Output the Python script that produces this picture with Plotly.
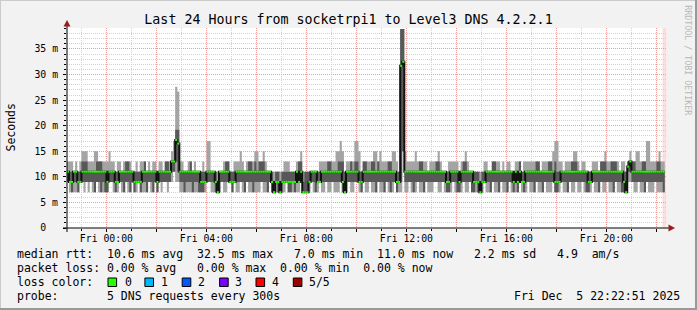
import plotly.graph_objects as go
import pandas as pd

# ---------------- data (5-minute bins, ms) ----------------
bin_start = "2025-12-04 22:25:00"
bin_minutes = 5

ping_min = [
    9, 7, 7, 7, 7, 7, 9,
    9, 7, 9, 7, 9, 7, 7, 9, 7, 7, 7, 7,
    7, 9, 9, 7, 7, 7, 9, 7, 7, 9, 7, 7,
    9, 7, 7, 9, 7, 7, 7, 7, 9, 7, 7, 9,
    7, 9, 7, 9, 9, 7, 9, 9, 11, 9, 9, 7,
    7, 7, 7, 7, 7, 7, 7, 7, 7, 7, 7, 7,
    9, 9, 7, 7, 7, 7, 7, 9, 7, 7, 9, 9,
    7, 9, 7, 7, 9, 7, 7, 9, 7, 7, 7, 7,
    7, 7, 9, 7, 7, 7, 9, 7, 7, 7, 7, 7,
    7, 7, 9, 7, 7, 7, 7, 7, 7, 9, 7, 7,
    7, 7, 9, 7, 7, 7, 9, 7, 7, 9, 7, 7,
    9, 7, 7, 7, 9, 7, 7, 7, 9, 7, 7, 9,
    9, 7, 7, 9, 7, 7, 9, 7, 7, 7, 9, 7,
    7, 7, 9, 7, 7, 7, 9, 7, 7, 7, 15, 7,
    7, 9, 7, 7, 7, 9, 7, 7, 7, 9, 7, 7,
    7, 9, 9, 7, 7, 9, 7, 7, 7, 7, 9, 7,
    7, 7, 7, 9, 7, 7, 9, 7, 7, 7, 7, 7,
    7, 9, 7, 7, 7, 9, 7, 7, 7, 9, 7, 7,
    7, 9, 7, 7, 7, 7, 9, 7, 7, 7, 9, 7,
    7, 7, 9, 7, 7, 7, 9, 7, 7, 7, 9, 7,
    7, 7, 9, 7, 7, 7, 9, 7, 7, 9, 7, 7,
    9, 7, 7, 7, 7, 9, 7, 7, 7, 9, 7, 7,
    9, 7, 7, 7, 9, 7, 7, 7, 7, 7, 9, 9,
    9, 7, 7, 9, 7, 7, 7, 9, 7, 7, 7, 9,
    7, 7, 7, 7,
]
ping_low = [
    9, 9, 7, 9, 9, 7, 9,
    9, 9, 9, 9, 9, 9, 7, 9, 9, 7, 9, 7,
    7, 9, 9, 9, 7, 9, 9, 9, 7, 9, 9, 7,
    9, 7, 9, 9, 7, 9, 9, 7, 9, 9, 7, 9,
    7, 9, 9, 9, 9, 9, 9, 11, 11, 13, 11, 9,
    9, 7, 9, 9, 9, 7, 9, 9, 7, 7, 7, 9,
    9, 9, 9, 9, 7, 7, 9, 9, 9, 9, 9, 9,
    7, 9, 9, 9, 9, 9, 7, 9, 9, 9, 7, 9,
    9, 9, 9, 9, 9, 7, 9, 7, 7, 9, 7, 7,
    9, 9, 9, 7, 7, 9, 7, 9, 9, 9, 7, 7,
    7, 9, 9, 9, 7, 9, 9, 9, 9, 9, 9, 9,
    9, 9, 9, 9, 9, 7, 7, 9, 9, 9, 9, 9,
    9, 9, 7, 9, 9, 9, 9, 9, 9, 7, 9, 9,
    9, 7, 9, 9, 7, 9, 9, 7, 9, 9, 15, 9,
    9, 9, 9, 7, 9, 9, 9, 9, 7, 9, 9, 9,
    9, 9, 9, 9, 9, 9, 9, 7, 7, 9, 9, 9,
    7, 7, 9, 9, 9, 9, 9, 7, 7, 9, 7, 7,
    9, 9, 9, 9, 7, 9, 9, 9, 7, 9, 9, 9,
    7, 9, 9, 7, 9, 7, 9, 9, 7, 9, 9, 9,
    9, 7, 9, 9, 9, 7, 9, 9, 9, 9, 9, 7,
    7, 9, 9, 9, 9, 7, 9, 9, 9, 9, 9, 9,
    9, 9, 7, 7, 9, 9, 9, 9, 7, 9, 9, 9,
    9, 9, 9, 7, 9, 9, 9, 7, 7, 7, 11, 11,
    9, 9, 9, 9, 9, 9, 7, 9, 9, 9, 9, 9,
    9, 9, 9, 7,
]
median_rtt = [
    11, 9, 9, 11, 11, 9, 9,
    11, 11, 11, 11, 11, 11, 11, 11, 11, 11, 11, 11,
    9, 11, 11, 11, 9, 9, 11, 11, 11, 11, 11, 11,
    11, 9, 9, 9, 9, 11, 11, 11, 11, 11, 11, 11,
    9, 11, 11, 11, 11, 11, 11, 13, 13, 17.2, 16.5, 11,
    11, 11, 11, 11, 11, 11, 11, 11, 11, 9, 9, 9,
    11, 11, 11, 11, 9, 7, 11, 11, 11, 11, 11, 9,
    9, 9, 11, 11, 11, 11, 11, 11, 11, 11, 11, 11,
    11, 11, 11, 11, 11, 11, 11, 9, 7, 9, 9, 7,
    9, 9, 9, 9, 9, 9, 9, 11, 9, 11, 7, 7,
    7, 9, 11, 11, 11, 9, 9, 11, 11, 11, 11, 11,
    11, 11, 11, 11, 11, 9, 7, 11, 11, 11, 11, 11,
    11, 9, 9, 11, 11, 11, 11, 11, 11, 11, 11, 11,
    11, 11, 11, 11, 11, 11, 11, 9, 9, 31.7, 32.5, 11,
    11, 11, 11, 11, 11, 11, 11, 11, 11, 11, 11, 11,
    11, 11, 11, 11, 11, 11, 11, 9, 9, 11, 11, 11,
    11, 9, 11, 11, 11, 11, 11, 11, 9, 9, 9, 7,
    9, 9, 11, 11, 11, 11, 11, 11, 11, 11, 11, 11,
    11, 11, 11, 9, 11, 9, 11, 9, 9, 11, 11, 11,
    11, 11, 11, 11, 11, 11, 11, 11, 11, 11, 11, 9,
    9, 9, 11, 11, 11, 11, 11, 11, 11, 11, 11, 11,
    11, 11, 11, 9, 9, 11, 11, 11, 11, 11, 11, 11,
    11, 11, 11, 11, 11, 11, 11, 11, 9, 7, 12, 13,
    11, 11, 11, 11, 11, 11, 11, 11, 11, 11, 11, 11,
    11, 11, 11, 11,
]
ping_high = [
    11, 11, 11, 11, 11, 11, 11,
    13, 13, 13, 11, 11, 11, 11, 13, 13, 13, 11, 11,
    11, 11, 11, 11, 11, 11, 11, 11, 11, 13, 13, 11,
    11, 11, 11, 11, 11, 11, 13, 11, 11, 11, 11, 11,
    11, 11, 11, 11, 13, 13, 11, 13, 13, 19.2, 19.2, 11,
    11, 11, 11, 11, 13, 11, 11, 11, 11, 11, 11, 11,
    11, 11, 11, 11, 11, 9, 11, 11, 11, 13, 13, 11,
    11, 11, 11, 11, 11, 11, 11, 11, 13, 13, 11, 13,
    11, 13, 13, 13, 11, 11, 11, 11, 9, 11, 11, 9,
    11, 11, 11, 11, 11, 11, 11, 11, 13, 13, 9, 11,
    11, 11, 11, 11, 11, 11, 11, 11, 11, 11, 13, 13,
    11, 11, 11, 13, 13, 13, 11, 11, 11, 13, 11, 13,
    13, 11, 11, 13, 13, 11, 11, 13, 13, 11, 13, 11,
    11, 11, 11, 13, 13, 11, 11, 11, 11, 38.9, 38.9, 11,
    11, 11, 11, 11, 11, 11, 13, 13, 11, 11, 11, 11,
    11, 11, 13, 13, 11, 11, 11, 11, 11, 11, 11, 11,
    11, 11, 11, 13, 13, 11, 11, 11, 11, 11, 11, 9,
    11, 11, 11, 11, 11, 13, 13, 11, 11, 11, 11, 11,
    11, 11, 11, 11, 11, 11, 13, 11, 11, 11, 11, 11,
    11, 11, 13, 13, 11, 11, 11, 11, 13, 13, 11, 13,
    11, 11, 11, 11, 11, 11, 11, 13, 13, 13, 11, 11,
    11, 11, 11, 11, 11, 11, 11, 11, 11, 13, 13, 13,
    11, 11, 13, 13, 13, 11, 11, 11, 11, 11, 13, 13,
    13, 13, 11, 11, 11, 13, 13, 11, 11, 11, 11, 11,
    13, 13, 11, 11,
]
ping_max = [
    13, 13, 13, 11, 13, 11, 13,
    15, 15, 15, 13, 13, 13, 15, 15, 13, 13, 13, 13,
    13, 15, 13, 13, 11, 13, 13, 11, 13, 13, 13, 13,
    11, 11, 13, 11, 13, 13, 13, 11, 13, 11, 13, 13,
    11, 13, 13, 11, 13, 13, 13, 15, 17, 27.6, 26.7, 13,
    13, 11, 11, 13, 13, 11, 13, 11, 11, 11, 13, 11,
    17, 17, 11, 11, 11, 11, 11, 11, 13, 13, 13, 11,
    11, 13, 13, 13, 15, 13, 11, 13, 13, 13, 13, 15,
    15, 13, 13, 15, 13, 11, 11, 11, 11, 11, 11, 11,
    11, 13, 13, 13, 11, 11, 11, 13, 13, 15, 11, 11,
    11, 11, 11, 11, 11, 11, 13, 13, 13, 13, 13, 13,
    13, 13, 15, 15, 17, 15, 11, 13, 13, 13, 13, 17,
    17, 15, 11, 13, 13, 13, 13, 13, 15, 15, 13, 15,
    13, 13, 13, 13, 13, 15, 15, 13, 11, 38.9, 38.9, 15,
    13, 13, 13, 13, 15, 13, 13, 13, 13, 13, 11, 13,
    13, 13, 13, 15, 13, 11, 11, 11, 13, 13, 13, 13,
    13, 11, 13, 13, 15, 13, 11, 11, 11, 11, 11, 11,
    11, 13, 13, 11, 11, 13, 13, 13, 13, 11, 13, 11,
    13, 13, 11, 11, 13, 13, 13, 11, 13, 13, 13, 13,
    13, 13, 13, 13, 11, 13, 13, 13, 13, 13, 15, 17,
    17, 13, 13, 11, 13, 13, 13, 13, 15, 15, 13, 11,
    13, 13, 11, 11, 11, 13, 13, 13, 11, 13, 13, 15,
    13, 13, 13, 13, 13, 13, 11, 13, 13, 11, 13, 15,
    13, 13, 15, 15, 13, 13, 13, 17, 17, 13, 13, 13,
    13, 15, 13, 13,
]

x_range = ["2025-12-04 22:25:24", "2025-12-05 22:25:24"]
y_max = 39.1
x_major = ["2025-12-05 00:00", "2025-12-05 02:00", "2025-12-05 04:00", "2025-12-05 06:00",
           "2025-12-05 08:00", "2025-12-05 10:00", "2025-12-05 12:00", "2025-12-05 14:00",
           "2025-12-05 16:00", "2025-12-05 18:00", "2025-12-05 20:00", "2025-12-05 22:00"]
x_labels = ["Fri 00:00", "", "Fri 04:00", "", "Fri 08:00", "", "Fri 12:00", "",
            "Fri 16:00", "", "Fri 20:00", ""]
y_ticks = [0, 5, 10, 15, 20, 25, 30, 35]
y_labels = ["0  ", "5 m", "10 m", "15 m", "20 m", "25 m", "30 m", "35 m"]

title = "Last 24 Hours from socketrpi1 to Level3 DNS 4.2.2.1"
stat_rtt = "median rtt:  10.6 ms avg  32.5 ms max   7.0 ms min  11.0 ms now   2.2 ms sd   4.9  am/s"
stat_loss = "packet loss: 0.00 % avg   0.00 % max  0.00 % min  0.00 % now"
probe_line = "probe:       5 DNS requests every 300s"
stamp = "Fri Dec  5 22:22:51 2025"
loss_names = ["0", "1", "2", "3", "4", "5/5"]
loss_colors = ["#26ff00", "#00b8ff", "#0059ff", "#7e00ff", "#ff0000", "#a10000"]

# ---------------- geometry / styling ----------------
W, H = 697, 310
L, R, T, B = 67, 667, 28, 228
FONT = "DejaVu Sans Mono"


def px(xp):
    return (xp - L) / (R - L)


def py(yp):
    return (B - yp) / (B - T)


def nb(s):
    return s.replace(" ", "\u00a0")


n = len(median_rtt)
edges = list(pd.date_range(bin_start, periods=n + 1, freq=f"{bin_minutes}min"))


def step(vals):
    return list(vals) + [vals[-1]]


fig = go.Figure()
fig.add_trace(go.Scatter(x=edges, y=step(ping_min), mode="lines",
                         line=dict(width=0, shape="hv"), hoverinfo="skip", showlegend=False))
fig.add_trace(go.Scatter(x=edges, y=step(ping_max), mode="lines", fill="tonexty",
                         fillcolor="#a4a4a4", line=dict(width=0, shape="hv"),
                         hoverinfo="skip", showlegend=False))
fig.add_trace(go.Scatter(x=edges, y=step(ping_low), mode="lines",
                         line=dict(width=0, shape="hv"), hoverinfo="skip", showlegend=False))
fig.add_trace(go.Scatter(x=edges, y=step(ping_high), mode="lines", fill="tonexty",
                         fillcolor="#585858", line=dict(width=0, shape="hv"),
                         hoverinfo="skip", showlegend=False))
fig.add_trace(go.Scatter(x=edges, y=step(median_rtt), mode="lines",
                         line=dict(width=2, shape="hv", color="#111111"),
                         hoverinfo="skip", showlegend=False))
gx, gy = [], []
for i, m in enumerate(median_rtt):
    gx += [edges[i], edges[i + 1], None]
    gy += [m, m, None]
fig.add_trace(go.Scatter(x=gx, y=gy, mode="lines", line=dict(width=2, color=loss_colors[0]),
                         hoverinfo="skip", showlegend=False, connectgaps=False))

shapes = []
# pink "now" band
shapes.append(dict(type="rect", xref="paper", yref="paper", x0=px(662.5), x1=px(666.5),
                   y0=0, y1=1, fillcolor="#fcdede", line=dict(width=0), layer="below"))
# axis lines
shapes.append(dict(type="line", xref="paper", yref="paper", x0=px(63), x1=px(670),
                   y0=0, y1=0, line=dict(color="black", width=1)))
shapes.append(dict(type="line", xref="paper", yref="paper", x0=0, x1=0,
                   y0=py(232), y1=py(24), line=dict(color="black", width=1)))
# arrows
arrow = "#9b1c1c"
shapes.append(dict(type="path", xref="paper", yref="paper",
                   path=f"M {px(67)} {py(20)} L {px(63.5)} {py(26.5)} L {px(70.5)} {py(26.5)} Z",
                   fillcolor=arrow, line=dict(width=0)))
shapes.append(dict(type="path", xref="paper", yref="paper",
                   path=f"M {px(675)} {py(228)} L {px(668.5)} {py(224.5)} L {px(668.5)} {py(231.5)} Z",
                   fillcolor=arrow, line=dict(width=0)))
# frame
shapes.append(dict(type="line", xref="paper", yref="paper", x0=px(0), x1=px(W), y0=py(0.5), y1=py(0.5),
                   line=dict(color="#cbcbcb", width=1)))
shapes.append(dict(type="line", xref="paper", yref="paper", x0=px(0.5), x1=px(0.5), y0=py(0), y1=py(H),
                   line=dict(color="#cbcbcb", width=1)))
shapes.append(dict(type="line", xref="paper", yref="paper", x0=px(0), x1=px(W), y0=py(H - 1), y1=py(H - 1),
                   line=dict(color="#999999", width=2)))
shapes.append(dict(type="line", xref="paper", yref="paper", x0=px(W - 1), x1=px(W - 1), y0=py(0), y1=py(H),
                   line=dict(color="#999999", width=2)))

# loss colour swatches
box_left = [108, 144.9, 182.2, 219.6, 256, 293.3]
label_x = [123.6, 160, 196.9, 234.2, 271.1, 308]
for bx, col in zip(box_left, loss_colors):
    shapes.append(dict(type="rect", xref="paper", yref="paper", x0=px(bx), x1=px(bx + 8.6),
                       y0=py(286.5), y1=py(278), fillcolor=col, line=dict(color="black", width=1)))

ann = []


def text(x, y, s, size=11.5, anchor="left", color="black", angle=0):
    ann.append(dict(xref="paper", yref="paper", x=px(x), y=py(y), text=nb(s), showarrow=False,
                    xanchor=anchor, yanchor="middle", borderpad=0, textangle=angle,
                    font=dict(family=FONT, size=size, color=color)))


text(16, 254.3, stat_rtt)
text(16, 268.3, stat_loss)
text(16, 282.3, "loss color:")
for lx, name in zip(label_x, loss_names):
    text(lx, 282.3, name)
text(16, 296.3, probe_line)
text(680.5, 296.3, stamp, anchor="right")
text(10.8, 127.7, "Seconds", angle=-90, anchor="center")
text(687.7, 60, "RRDTOOL / TOBI OETIKER", size=8.3, anchor="center", color="#b8b8b8", angle=90)

fig.update_layout(
    width=W, height=H, autosize=False,
    margin=dict(l=L, r=W - R, t=T, b=H - B, pad=0),
    paper_bgcolor="#f2f2f2", plot_bgcolor="white",
    font=dict(family=FONT, size=9.8, color="black"),
    title=dict(text=title, x=0.5, xref="container", xanchor="center",
               y=1 - 19 / H, yref="container", yanchor="middle",
               font=dict(family=FONT, size=13.3, color="black")),
    showlegend=False,
    shapes=shapes, annotations=ann,
    xaxis=dict(type="date", range=x_range, tickmode="array", tickvals=x_major, ticktext=x_labels,
               showgrid=True, gridcolor="#f09a9a", griddash="1px,1px", gridwidth=1,
               ticks="outside", ticklen=3, tickcolor="black", showline=False, zeroline=False,
               automargin=False, ticklabelstandoff=-2,
               tickfont=dict(family=FONT, size=9.8, color="black"),
               minor=dict(dtick=3600000, tick0="2025-12-05 00:00", showgrid=True,
                          gridcolor="#d2d2d2", griddash="1px,1px", gridwidth=1,
                          ticks="outside", ticklen=2, tickcolor="black")),
    yaxis=dict(range=[0, y_max], tickmode="array", tickvals=y_ticks, ticktext=[nb(s) for s in y_labels],
               showgrid=True, gridcolor="#f09a9a", griddash="1px,1px", gridwidth=1,
               ticks="outside", ticklen=3, tickcolor="black", showline=False, zeroline=False,
               automargin=False, ticklabelstandoff=3,
               tickfont=dict(family=FONT, size=9.8, color="black"),
               minor=dict(dtick=1, showgrid=True, gridcolor="#d2d2d2", griddash="1px,1px",
                          gridwidth=1, ticks="outside", ticklen=2, tickcolor="black")),
)

fig.write_html("out.html")
